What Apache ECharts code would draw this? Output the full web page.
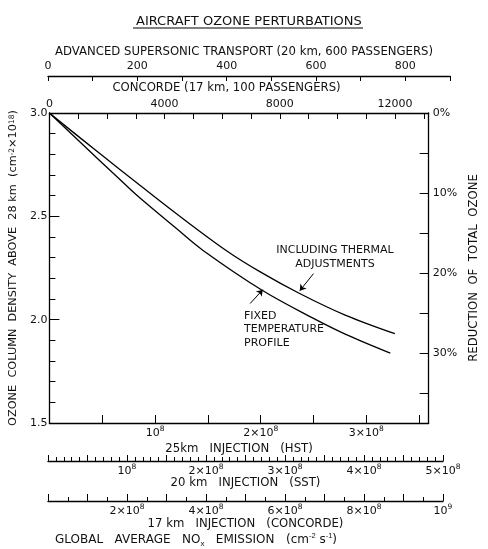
<!DOCTYPE html>
<html><head><meta charset="utf-8">
<script src="https://cdn.jsdelivr.net/npm/echarts@6/dist/echarts.min.js"></script>
<style>html,body{margin:0;padding:0;background:#fff}#c{width:488px;height:549px}</style>
</head><body><div id="c"></div>
<script>
// ---- data (x in units of 1e8 cm^-2 s^-1 at 25 km injection, y in 1e18 cm^-2) ----
const thermalX = [0, 0.3, 0.655, 0.836, 1.2, 1.673, 2.0, 2.364, 2.8, 3.27];
const thermalY = [3.0, 2.876, 2.732, 2.659, 2.514, 2.335, 2.230, 2.128, 2.022, 1.932];
const fixedX = [0, 0.3, 0.655, 0.836, 1.2, 1.455, 2.018, 2.5, 2.8, 3.227];
const fixedY = [3.0, 2.855, 2.684, 2.598, 2.442, 2.335, 2.141, 2.006, 1.93, 1.838];
// tick labels
const ozoneTicks = [1.5, 2.0, 2.5, 3.0];
const percentTicks = [0, 10, 20, 30];
const hstTicks = [1, 2, 3];
const sstTicks = [1, 2, 3, 4, 5];
const concordeInjTicks = [2, 4, 6, 8, 10];
const concordeFleetTicks = [0, 4000, 8000, 12000];
const asstFleetTicks = [0, 200, 400, 600, 800];
// annotation arrows [from, to] in data coords
const arrowThermal = [[2.5, 2.223], [2.37, 2.14]];
const arrowFixed = [[1.9, 2.078], [2.02, 2.145]];

const F = 'DejaVu Sans';
const C = '#111';
const rich = {
  b: {fontSize: 11, lineHeight: 16, fontFamily: F, color: C},
  s: {fontSize: 7.5, lineHeight: 9, verticalAlign: 'top', fontFamily: F, color: C}
};
function pow8(v) { return v === 1 ? '{b|10}{s|8}' : '{b|' + v + '×10}{s|8}'; }
function has(arr, v) { return arr.some(t => Math.abs(t - v) < 1e-6); }
const line = {show: true, onZero: false, lineStyle: {color: '#000', width: 1.3}};
const nameStyle = {fontFamily: F, fontSize: 11.7, color: C, rich: {
  s: {fontSize: 7.5, lineHeight: 9, verticalAlign: 'top', fontFamily: F, color: C}}};

const chart = echarts.init(document.getElementById('c'), null, {renderer: 'canvas'});
chart.setOption({
  animation: false,
  backgroundColor: '#fff',
  textStyle: {fontFamily: F, color: C},
  title: {text: 'AIRCRAFT OZONE PERTURBATIONS', left: 131, top: 10,
    textStyle: {fontFamily: F, fontSize: 13, fontWeight: 'normal', color: C}},
  grid: [
    {left: 48, top: 113, width: 395, height: 310},
    {left: 48, top: 76, width: 402, height: 10},
    {left: 48, top: 451, width: 395, height: 10},
    {left: 48, top: 491, width: 395, height: 10}
  ],
  xAxis: [
    {gridIndex: 0, type: 'value', position: 'bottom', min: 0, max: 3.59, interval: 0.5,
      axisLine: line, splitLine: {show: false},
      axisTick: {inside: true, length: 8, lineStyle: {color: '#000'}},
      axisLabel: {margin: 2, formatter: v => has(hstTicks, v) ? pow8(v) : '', rich: rich, showMaxLabel: false},
      name: '25km   INJECTION   (HST)', nameLocation: 'middle', nameGap: 17, nameTextStyle: nameStyle},
    {gridIndex: 0, type: 'value', position: 'top', min: 0, max: 13167, interval: 1000,
      axisLine: line, splitLine: {show: false},
      axisTick: {inside: true, length: 6, lineStyle: {color: '#000'}},
      axisLabel: {margin: 3, fontSize: 11, color: C, formatter: v => has(concordeFleetTicks, v) ? String(v) : ''},
      name: 'CONCORDE (17 km, 100 PASSENGERS)', nameLocation: 'middle', nameGap: 16,
      nameTextStyle: Object.assign({}, nameStyle, {padding: [0, 25, 0, 0]})},
    {gridIndex: 1, type: 'value', position: 'top', min: 0, max: 900, interval: 100,
      axisLine: line, splitLine: {show: false},
      axisTick: {inside: true, length: 5, lineStyle: {color: '#000'}},
      axisLabel: {margin: 4, fontSize: 11, color: C, formatter: v => has(asstFleetTicks, v) ? String(v) : ''},
      name: 'ADVANCED SUPERSONIC TRANSPORT (20 km, 600 PASSENGERS)', nameLocation: 'middle', nameGap: 18,
      nameTextStyle: Object.assign({}, nameStyle, {padding: [0, 10, 0, 0]})},
    {gridIndex: 2, type: 'value', position: 'bottom', min: 0, max: 5, interval: 0.5,
      axisLine: line, splitLine: {show: false},
      axisTick: {inside: true, length: 6, lineStyle: {color: '#000'}},
      minorTick: {show: true, splitNumber: 5, length: 4, lineStyle: {color: '#000'}},
      axisLabel: {margin: 2, formatter: v => has(sstTicks, v) ? pow8(v) : '', rich: rich},
      name: '20 km   INJECTION   (SST)', nameLocation: 'middle', nameGap: 15, nameTextStyle: nameStyle},
    {gridIndex: 3, type: 'value', position: 'bottom', min: 0, max: 10, interval: 1,
      axisLine: line, splitLine: {show: false},
      axisTick: {inside: true, length: 7, lineStyle: {color: '#000'}},
      minorTick: {show: true, splitNumber: 2, length: 4, lineStyle: {color: '#000'}},
      axisLabel: {margin: 2, rich: rich,
        formatter: v => has(concordeInjTicks, v) ? (v === 10 ? '{b|10}{s|9}' : pow8(v)) : ''},
      name: '17 km   INJECTION   (CONCORDE)', nameLocation: 'middle', nameGap: 17, nameTextStyle: nameStyle}
  ],
  yAxis: [
    {gridIndex: 0, type: 'value', position: 'left', min: 1.5, max: 3.0, interval: 0.5,
      axisLine: line, splitLine: {show: false},
      axisTick: {inside: true, length: 10, lineStyle: {color: '#000'}},
      minorTick: {show: true, splitNumber: 5, length: 6, lineStyle: {color: '#000'}},
      axisLabel: {margin: 2, fontSize: 11, color: C,
        formatter: v => has(ozoneTicks, v) ? v.toFixed(1) : ''},
      name: 'OZONE  COLUMN  DENSITY  ABOVE  28 km  (cm{s|-2}×10{s|18})',
      nameLocation: 'middle', nameRotate: 90, nameGap: 30,
      nameTextStyle: Object.assign({}, nameStyle, {fontSize: 11.3})},
    {gridIndex: 0, type: 'value', position: 'right', min: 0, max: 38.75, interval: 5, inverse: true,
      axisLine: line, splitLine: {show: false},
      axisTick: {inside: true, length: 9, lineStyle: {color: '#000'}},
      axisLabel: {margin: 4, fontSize: 11, color: C, showMaxLabel: false,
        formatter: v => has(percentTicks, v) ? v + '%' : ''},
      name: 'REDUCTION  OF  TOTAL  OZONE', nameLocation: 'middle', nameRotate: 90, nameGap: 36,
      nameTextStyle: nameStyle},
    {gridIndex: 1, type: 'value', show: false, min: 0, max: 1},
    {gridIndex: 2, type: 'value', show: false, min: 0, max: 1},
    {gridIndex: 3, type: 'value', show: false, min: 0, max: 1}
  ],
  series: [
    {name: 'Including thermal adjustments', type: 'line', xAxisIndex: 0, yAxisIndex: 0,
      data: thermalX.map((x, i) => [x, thermalY[i]]), smooth: 0.35, symbol: 'none',
      lineStyle: {color: '#000', width: 1.3},
      markLine: {silent: true, symbol: ['none', 'arrow'], symbolSize: 6,
        lineStyle: {color: '#000', width: 1, type: 'solid', curveness: 0.25},
        label: {show: false},
        data: [
          [{coord: arrowThermal[0]}, {coord: arrowThermal[1]}],
          [{coord: arrowFixed[0]}, {coord: arrowFixed[1]}]
        ]}},
    {name: 'Fixed temperature profile', type: 'line', xAxisIndex: 0, yAxisIndex: 0,
      data: fixedX.map((x, i) => [x, fixedY[i]]), smooth: 0.35, symbol: 'none',
      lineStyle: {color: '#000', width: 1.3}}
  ],
  graphic: [
    {type: 'line', shape: {x1: 133, y1: 28, x2: 363, y2: 28}, style: {stroke: '#000', lineWidth: 1}},
    {type: 'text', left: 270, top: 243, style: {text: 'INCLUDING THERMAL\nADJUSTMENTS', font: '11px "DejaVu Sans"',
      fill: C, textAlign: 'center', lineHeight: 14, width: 130}},
    {type: 'text', left: 244, top: 309, style: {text: 'FIXED\nTEMPERATURE\nPROFILE', font: '11px "DejaVu Sans"',
      fill: C, lineHeight: 13.5}},
    {type: 'text', left: 55, top: 532, style: {
      text: 'GLOBAL   AVERAGE   NO{sub|x}   EMISSION   (cm{s|-2} s{s|-1})',
      font: '12px "DejaVu Sans"', fill: C,
      rich: {s: {fontSize: 7.5, lineHeight: 9, verticalAlign: 'top', fill: C},
             sub: {fontSize: 8, lineHeight: 9, verticalAlign: 'bottom', fill: C}},
      lineHeight: 16}}
  ]
});
</script></body></html>
